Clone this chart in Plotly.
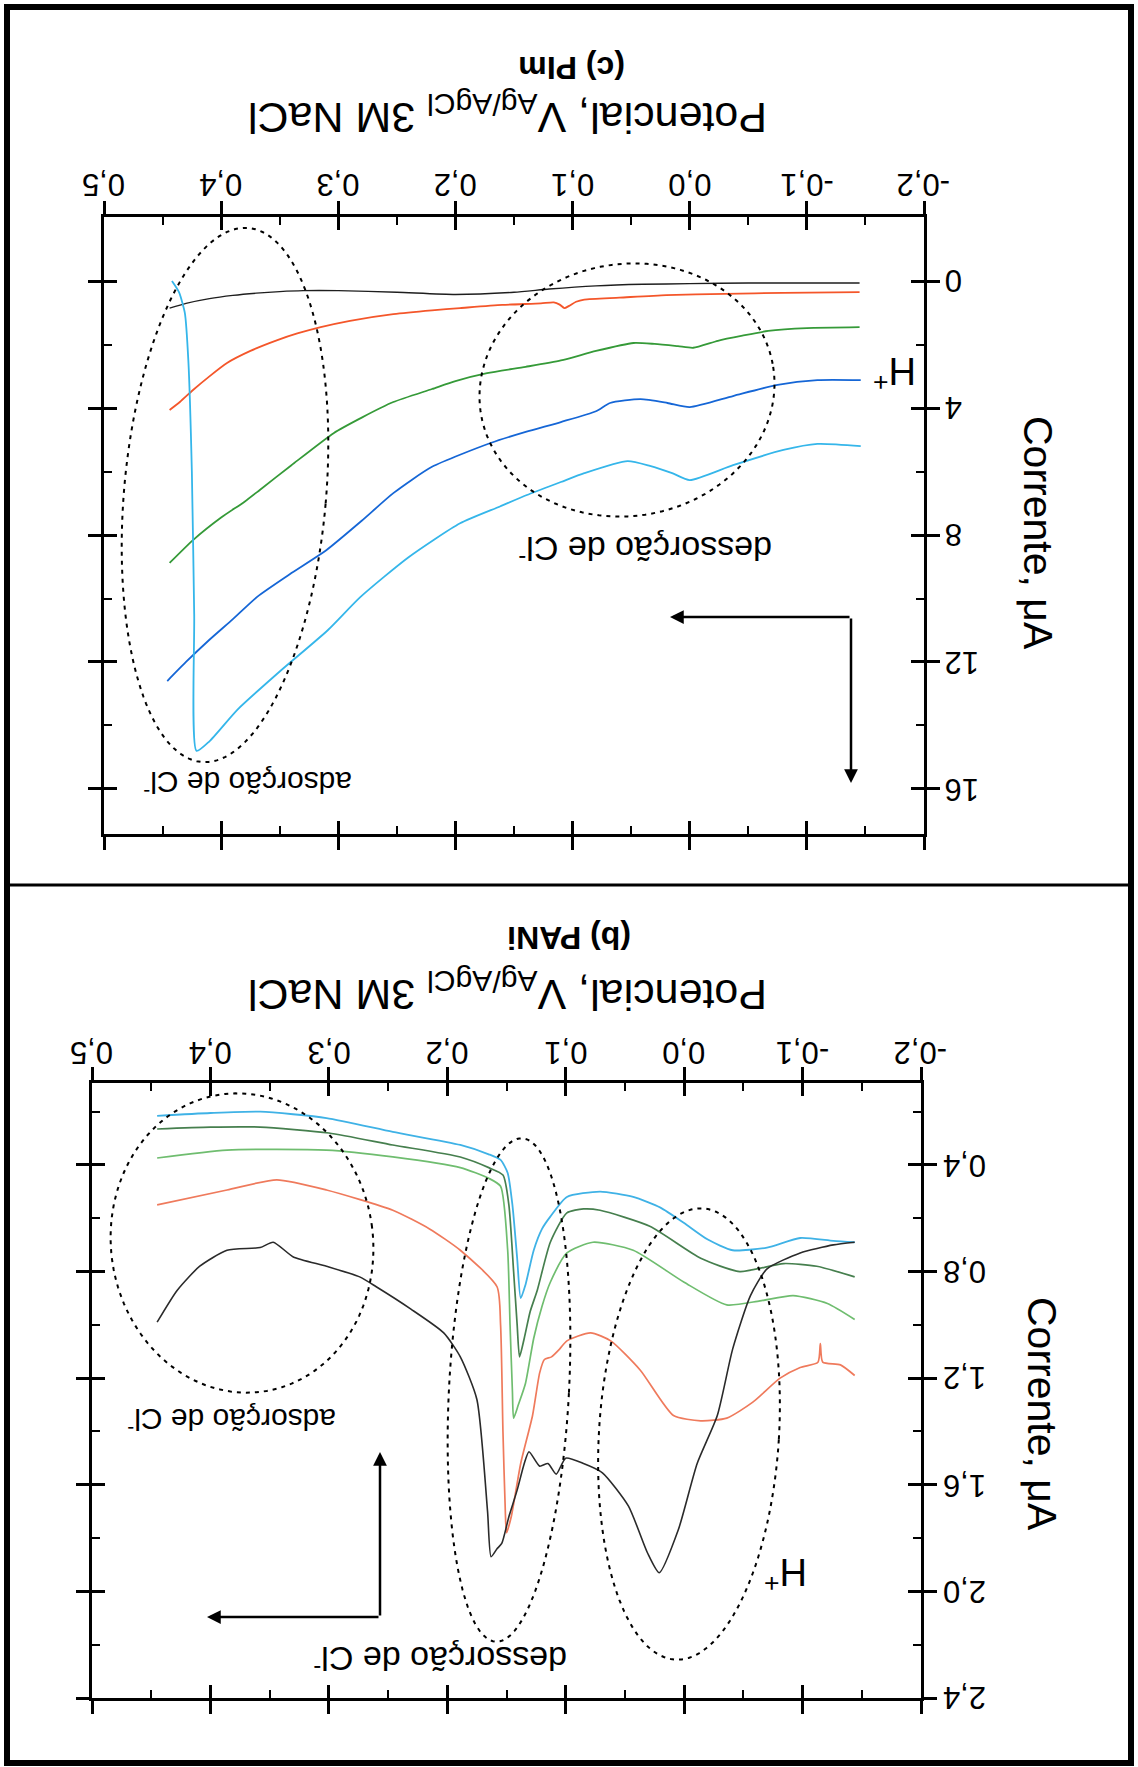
import numpy as np
import plotly.graph_objects as go

W, H = 1138, 1767
FONT = "Liberation Sans, Arial, sans-serif"

# ---------------- Panel (c) PIm : potential (V) vs current (uA) ----------------
pim_black_x = [0.444, 0.43, 0.41, 0.39, 0.37, 0.35, 0.33, 0.30, 0.25, 0.20, 0.15, 0.12, 0.08, 0.04, 0.0, -0.05, -0.10, -0.145]
pim_black_y = [0.85, 0.70, 0.55, 0.45, 0.38, 0.33, 0.30, 0.30, 0.35, 0.42, 0.35, 0.25, 0.15, 0.10, 0.08, 0.06, 0.06, 0.06]

pim_orange_x = [0.444, 0.435, 0.424, 0.41, 0.395, 0.375, 0.352, 0.335, 0.315, 0.29, 0.253, 0.22, 0.196, 0.16,
                0.127, 0.116, 0.111, 0.107, 0.103, 0.097, 0.09, 0.06, 0.02, -0.03, -0.08, -0.145]
pim_orange_y = [4.06, 3.80, 3.43, 3.00, 2.58, 2.20, 1.86, 1.65, 1.45, 1.25, 1.04, 0.92, 0.85, 0.75,
                0.70, 0.67, 0.74, 0.85, 0.78, 0.65, 0.58, 0.52, 0.44, 0.40, 0.37, 0.35]

pim_green_x = [0.444, 0.424, 0.40, 0.38, 0.367, 0.34, 0.304, 0.28, 0.253, 0.22, 0.20, 0.173, 0.14, 0.11,
               0.08, 0.048, 0.03, 0.01, -0.003, -0.024, -0.045, -0.067, -0.10, -0.145]
pim_green_y = [8.88, 8.16, 7.45, 6.95, 6.58, 5.80, 4.79, 4.30, 3.81, 3.40, 3.15, 2.90, 2.70, 2.50,
               2.20, 1.95, 1.98, 2.05, 2.10, 1.88, 1.72, 1.57, 1.48, 1.45]

pim_blue_x = [0.446, 0.43, 0.41, 0.39, 0.369, 0.34, 0.31, 0.28, 0.253, 0.22, 0.17, 0.14, 0.11, 0.08,
              0.068, 0.042, 0.019, 0.0, -0.037, -0.075, -0.109, -0.146]
pim_blue_y = [12.6, 12.0, 11.3, 10.65, 9.94, 9.20, 8.47, 7.55, 6.68, 5.85, 5.10, 4.75, 4.44, 4.10,
              3.84, 3.72, 3.84, 3.97, 3.62, 3.27, 3.12, 3.12]

pim_cyan_x = [0.442, 0.436, 0.431, 0.428, 0.425, 0.423, 0.421, 0.41, 0.386, 0.35, 0.309, 0.281, 0.24, 0.196,
              0.162, 0.139, 0.11, 0.09, 0.053, 0.034, 0.015, 0.0, -0.037, -0.08, -0.109, -0.146]
pim_cyan_y = [0.0, 0.35, 1.0, 2.5, 6.0, 10.5, 14.8, 14.5, 13.5, 12.3, 11.0, 9.95, 8.70, 7.63,
              7.10, 6.74, 6.33, 6.05, 5.67, 5.82, 6.05, 6.27, 5.80, 5.32, 5.13, 5.20]

# ---------------- Panel (b) PANi ----------------
pani_cyan_x = [0.445, 0.40, 0.358, 0.302, 0.246, 0.189, 0.165, 0.155, 0.149, 0.145, 0.141, 0.138, 0.134,
               0.127, 0.12, 0.113, 0.099, 0.071, 0.043, 0.02, 0.0, -0.02, -0.041, -0.07, -0.098, -0.126, -0.144]
pani_cyan_y = [0.216, 0.205, 0.20, 0.224, 0.276, 0.325, 0.36, 0.381, 0.43, 0.55, 0.75, 0.90, 0.85,
               0.72, 0.64, 0.594, 0.52, 0.50, 0.52, 0.56, 0.618, 0.68, 0.72, 0.71, 0.674, 0.685, 0.69]

pani_dkgreen_x = [0.445, 0.40, 0.358, 0.30, 0.246, 0.189, 0.165, 0.153, 0.148, 0.144, 0.141, 0.139, 0.135,
                  0.13, 0.124, 0.113, 0.099, 0.085, 0.071, 0.029, -0.014, -0.047, -0.084, -0.112, -0.144]
pani_dkgreen_y = [0.265, 0.258, 0.258, 0.28, 0.325, 0.37, 0.41, 0.438, 0.55, 0.80, 1.00, 1.12, 1.05,
                  0.95, 0.87, 0.69, 0.58, 0.565, 0.57, 0.63, 0.75, 0.80, 0.77, 0.78, 0.82]

pani_ltgreen_x = [0.445, 0.386, 0.302, 0.246, 0.189, 0.165, 0.155, 0.149, 0.147, 0.145, 0.144, 0.14, 0.134,
                  0.127, 0.12, 0.113, 0.099, 0.077, 0.043, 0.0, -0.036, -0.064, -0.092, -0.121, -0.144]
pani_ltgreen_y = [0.374, 0.344, 0.344, 0.37, 0.41, 0.45, 0.48, 0.72, 1.00, 1.25, 1.35, 1.30, 1.22,
                  1.05, 0.93, 0.84, 0.73, 0.69, 0.72, 0.84, 0.925, 0.91, 0.89, 0.92, 0.98]

pani_orange_x = [0.445, 0.386, 0.344, 0.302, 0.246, 0.215, 0.189, 0.158, 0.155, 0.153, 0.151, 0.150, 0.146,
                 0.138, 0.128, 0.122, 0.118, 0.112, 0.105, 0.099, 0.079, 0.062, 0.037, 0.009, -0.014, -0.036,
                 -0.058, -0.081, -0.098, -0.113, -0.115, -0.117, -0.132, -0.144]
pani_orange_y = [0.55, 0.494, 0.456, 0.494, 0.57, 0.64, 0.72, 0.857, 1.00, 1.40, 1.70, 1.78, 1.72,
                 1.52, 1.34, 1.18, 1.13, 1.12, 1.09, 1.06, 1.03, 1.06, 1.17, 1.34, 1.36, 1.35,
                 1.29, 1.20, 1.16, 1.14, 1.07, 1.14, 1.15, 1.19]

pani_black_x = [0.445, 0.428, 0.409, 0.386, 0.358, 0.347, 0.33, 0.302, 0.274, 0.26, 0.231, 0.203, 0.189,
                0.175, 0.166, 0.163, 0.158, 0.154, 0.148, 0.141, 0.135, 0.131, 0.122, 0.115, 0.108, 0.10,
                0.085, 0.069, 0.047, 0.031, 0.021, 0.005, -0.011, -0.028, -0.041, -0.056, -0.07, -0.098,
                -0.126, -0.144]
pani_black_y = [0.99, 0.87, 0.78, 0.72, 0.71, 0.69, 0.745, 0.78, 0.82, 0.857, 0.94, 1.03, 1.12,
                1.28, 1.70, 1.87, 1.84, 1.82, 1.72, 1.62, 1.52, 1.476, 1.53, 1.52, 1.56, 1.50,
                1.52, 1.555, 1.68, 1.855, 1.93, 1.77, 1.52, 1.34, 1.09, 0.89, 0.79, 0.73,
                0.70, 0.69]

# axis ticks
x_major = [0.5, 0.4, 0.3, 0.2, 0.1, 0.0, -0.1, -0.2]
x_labels = ["0,5", "0,4", "0,3", "0,2", "0,1", "0,0", "-0,1", "-0,2"]
x_minor = [0.45, 0.35, 0.25, 0.15, 0.05, -0.05, -0.15]
pim_y_major = [0, 4, 8, 12, 16]
pim_y_labels = ["0", "4", "8", "12", "16"]
pim_y_minor = [2, 6, 10, 14]
pani_y_major = [0.4, 0.8, 1.2, 1.6, 2.0, 2.4]
pani_y_labels = ["0,4", "0,8", "1,2", "1,6", "2,0", "2,4"]
pani_y_minor = [0.2, 0.6, 1.0, 1.4, 1.8, 2.2]


def px(x):
    return x / W


def py(y):
    return 1 - y / H


fig = go.Figure()


def curve(xs, ys, col, w, xa, ya):
    fig.add_trace(go.Scatter(x=xs, y=ys, mode="lines",
                             line=dict(color=col, width=w, shape="spline", smoothing=0.6),
                             xaxis=xa, yaxis=ya, showlegend=False, hoverinfo="skip"))


curve(pim_black_x, pim_black_y, "#1e1e1e", 1.4, "x", "y")
curve(pim_orange_x, pim_orange_y, "#f4562a", 1.8, "x", "y")
curve(pim_green_x, pim_green_y, "#359a38", 1.8, "x", "y")
curve(pim_blue_x, pim_blue_y, "#1566d6", 1.8, "x", "y")
curve(pim_cyan_x, pim_cyan_y, "#35b6ea", 1.8, "x", "y")

curve(pani_cyan_x, pani_cyan_y, "#3fb2e6", 1.8, "x2", "y2")
curve(pani_dkgreen_x, pani_dkgreen_y, "#467f4e", 1.7, "x2", "y2")
curve(pani_ltgreen_x, pani_ltgreen_y, "#6fbd6f", 1.7, "x2", "y2")
curve(pani_orange_x, pani_orange_y, "#ef7a5c", 1.7, "x2", "y2")
curve(pani_black_x, pani_black_y, "#2a2a2a", 1.6, "x2", "y2")

# empty traces so the overlay axes (inner half of the crossing ticks) get drawn
for xa, ya in (("x3", "y3"), ("x4", "y4")):
    fig.add_trace(go.Scatter(x=[], y=[], xaxis=xa, yaxis=ya, showlegend=False, hoverinfo="skip"))

pim_xdom = [px(104), px(924)]
pim_ydom = [py(834), py(217)]
pani_xdom = [px(92), px(921)]
pani_ydom = [py(1698), py(1083)]
pim_xrange = [0.5, -0.2]
pim_yrange = [17.42, -2.02]
pani_xrange = [0.5, -0.2]
pani_yrange = [2.4, 0.0925]

base = dict(showgrid=False, zeroline=False, showticklabels=False)


def main_axis(domain, rng, tv, minor_tv, side, anchor):
    return dict(base, domain=domain, range=rng, side=side, anchor=anchor,
                showline=True, linecolor="black", linewidth=3, mirror="allticks",
                ticks="outside", ticklen=13, tickwidth=2.5, tickcolor="black",
                tickmode="array", tickvals=tv,
                minor=dict(tickmode="array", tickvals=minor_tv, ticks="inside",
                           ticklen=8, tickwidth=2, tickcolor="black"))


def overlay_axis(over, rng, tv, side, anchor):
    return dict(base, overlaying=over, range=rng, side=side, anchor=anchor,
                showline=False, mirror="allticks", ticks="inside", ticklen=13,
                tickwidth=2.5, tickcolor="black", tickmode="array", tickvals=tv)


fig.update_layout(
    width=W, height=H, margin=dict(l=0, r=0, t=0, b=0),
    paper_bgcolor="white", plot_bgcolor="rgba(0,0,0,0)",
    font=dict(family=FONT, color="black"),
    xaxis=main_axis(pim_xdom, pim_xrange, x_major, x_minor, "top", "y"),
    yaxis=main_axis(pim_ydom, pim_yrange, pim_y_major, pim_y_minor, "right", "x"),
    xaxis2=main_axis(pani_xdom, pani_xrange, x_major, x_minor, "top", "y2"),
    yaxis2=main_axis(pani_ydom, pani_yrange, pani_y_major, pani_y_minor, "right", "x2"),
    xaxis3=overlay_axis("x", pim_xrange, x_major, "top", "y3"),
    yaxis3=overlay_axis("y", pim_yrange, pim_y_major, "right", "x3"),
    xaxis4=overlay_axis("x2", pani_xrange, x_major, "top", "y4"),
    yaxis4=overlay_axis("y2", pani_yrange, pani_y_major, "right", "x4"),
)

ann = []


def label(x, y, text, size, xref="paper", yref="paper", angle=180, bold=False, xanchor="center"):
    ann.append(dict(x=x, y=y, xref=xref, yref=yref, text=text, showarrow=False,
                    textangle=angle, xanchor=xanchor, yanchor="middle",
                    font=dict(family=FONT, size=size, color="black",
                              weight="bold" if bold else "normal")))


# tick labels (whole figure is printed upside down)
for v, t in zip(x_major, x_labels):
    label(v, py(184), t, 31, xref="x")
    label(v, py(1053), t, 31, xref="x2")
for v, t in zip(pim_y_major, pim_y_labels):
    label(px(943), v, t, 31, yref="y", xanchor="left")
for v, t in zip(pani_y_major, pani_y_labels):
    label(px(941), v, t, 31, yref="y2", xanchor="left")

# axis titles and panel names
label(px(508), py(115), "Potencial, V<sub>Ag/AgCl</sub> 3M NaCl", 43)
label(px(572), py(68), "(c) PIm", 32, bold=True)
label(px(1038), py(533), "Corrente, μA", 41, angle=90)
label(px(508), py(992), "Potencial, V<sub>Ag/AgCl</sub> 3M NaCl", 43)
label(px(569), py(938), "(b) PANi", 32, bold=True)
label(px(1042), py(1414), "Corrente, μA", 41, angle=90)

# region notes
label(px(895), py(374), "H<sup>+</sup>", 38)
label(px(645), py(552), "dessorção de Cl<sup>-</sup>", 34)
label(px(248), py(785), "adsorção de Cl<sup>-</sup>", 30)
label(px(786), py(1575), "H<sup>+</sup>", 38)
label(px(440), py(1662), "dessorção de Cl<sup>-</sup>", 34)
label(px(232), py(1422), "adsorção de Cl<sup>-</sup>", 30)


def arrow(tipx, tipy, tailx, taily):
    ann.append(dict(x=px(tipx), y=py(tipy), xref="paper", yref="paper", text="",
                    showarrow=True, ax=tailx - tipx, ay=taily - tipy,
                    arrowhead=2, arrowsize=1.1, arrowwidth=2.5, arrowcolor="black"))


# sweep direction arrows
arrow(851, 783, 851, 617)
arrow(670, 617, 851, 617)
arrow(380, 1452, 380, 1617)
arrow(207, 1617, 380, 1617)

fig.update_layout(annotations=ann)


def ellipse_path(cx, cy, a, b, deg, n=160):
    t = np.linspace(0, 2 * np.pi, n)
    th = np.radians(deg)
    dx, dy = a * np.cos(t), b * np.sin(t)
    xs = cx + dx * np.cos(th) + dy * np.sin(th)
    ys = cy - dx * np.sin(th) + dy * np.cos(th)
    return "M " + " L ".join(f"{px(x):.5f},{py(y):.5f}" for x, y in zip(xs, ys)) + " Z"


dotted = dict(color="black", width=2, dash="4px,5px")
shapes = []
for cx, cy, a, b, deg in [(225, 495, 101, 268, -5), (627, 390, 148, 126, 9),
                          (242, 1243, 131, 150, 8), (509, 1390, 60, 252, -3),
                          (689, 1434, 90, 226, -3.5)]:
    shapes.append(dict(type="path", path=ellipse_path(cx, cy, a, b, deg),
                       xref="paper", yref="paper", line=dotted))

# outer frame and panel separator
shapes.append(dict(type="rect", xref="paper", yref="paper", x0=px(7), x1=px(1131), y0=py(1763), y1=py(7),
                   line=dict(color="black", width=6)))
shapes.append(dict(type="line", xref="paper", yref="paper", x0=px(7), x1=px(1131), y0=py(885), y1=py(885),
                   line=dict(color="black", width=3)))
fig.update_layout(shapes=shapes)

fig.write_html("out.html")
